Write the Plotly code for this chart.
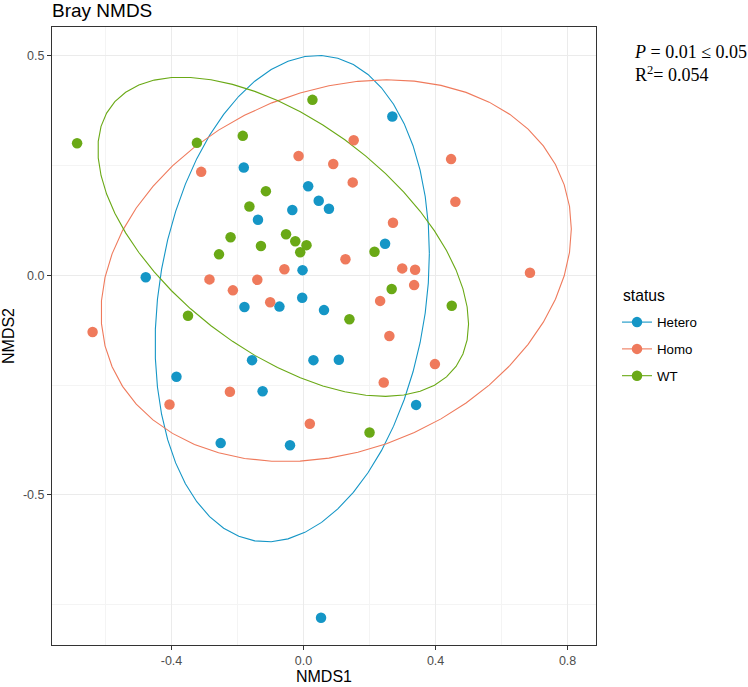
import numpy as np
import plotly.graph_objects as go

# ---- data ----
groups = ["Hetero", "Homo", "WT"]
colors = {"Hetero": "#1596C6", "Homo": "#EF7A5C", "WT": "#6AA916"}

hetero_x = [-0.181, 0.014, 0.046, 0.077, -0.034, -0.138, -0.003, -0.478, -0.004, -0.179, -0.073, 0.062,
            0.269, 0.247, -0.156, 0.030, 0.107, -0.385, -0.124, -0.251, -0.041, 0.341, 0.053]
hetero_y = [0.246, 0.203, 0.170, 0.152, 0.149, 0.127, 0.012, -0.004, -0.051, -0.072, -0.071, -0.079,
            0.362, 0.072, -0.193, -0.193, -0.192, -0.231, -0.264, -0.382, -0.387, -0.295, -0.780]

homo_x = [0.152, -0.015, 0.090, -0.310, 0.149, 0.127, -0.058, -0.285, -0.140, -0.214, -0.101, -0.639,
          0.447, 0.460, 0.271, 0.299, 0.338, 0.686, 0.335, 0.232, 0.260, -0.223, -0.406, 0.019, 0.398, 0.243]
homo_y = [0.308, 0.272, 0.254, 0.236, 0.212, 0.037, 0.014, -0.009, -0.010, -0.034, -0.061, -0.129,
          0.265, 0.168, 0.120, 0.016, 0.013, 0.006, -0.022, -0.058, -0.138, -0.265, -0.294, -0.338, -0.202, -0.244]

wt_x = [-0.686, -0.323, -0.184, 0.027, -0.114, -0.164, -0.221, -0.053, -0.025, 0.009, -0.010, -0.129,
        -0.256, 0.215, -0.350, 0.139, 0.267, 0.449, 0.200]
wt_y = [0.301, 0.302, 0.318, 0.400, 0.192, 0.157, 0.087, 0.094, 0.078, 0.069, 0.053, 0.067,
        0.048, 0.054, -0.092, -0.100, -0.031, -0.069, -0.358]

series = {"Hetero": (hetero_x, hetero_y), "Homo": (homo_x, homo_y), "WT": (wt_x, wt_y)}

x_ticks = [-0.4, 0.0, 0.4, 0.8]
x_ticktext = ["-0.4", "0.0", "0.4", "0.8"]
y_ticks = [-0.5, 0.0, 0.5]
y_ticktext = ["-0.5", "0.0", "0.5"]
annot_lines = ["<i>P</i> = 0.01 ≤ 0.05", "R<sup>2</sup>= 0.054"]

SANS = "Liberation Sans, Arial"


# ---- ggplot2 stat_ellipse (type "t", level 0.95) ----
def cov_trob(X, nu=5, maxit=25, tol=0.01):
    n, p = X.shape
    wt = np.ones(n)
    loc = X.mean(axis=0)
    w = np.sqrt(wt)
    Xc = X - loc
    for _ in range(maxit):
        w0 = w
        Xc = X - loc
        A = np.sqrt(w / w.sum())[:, None] * Xc
        _, d, Vt = np.linalg.svd(A, full_matrices=False)
        wX = Xc @ Vt.T @ np.diag(1.0 / d)
        Q = (wX ** 2).sum(axis=1)
        w = (wt * (nu + p)) / (nu + Q)
        loc = (w[:, None] * X).sum(axis=0) / w.sum()
        if np.all(np.abs(w - w0) < tol):
            break
    cov = (np.sqrt(w)[:, None] * Xc).T @ (np.sqrt(w)[:, None] * Xc) / wt.sum()
    return cov, loc


def stat_ellipse(xs, ys, level=0.95, segments=51):
    X = np.column_stack([xs, ys]).astype(float)
    cov, center = cov_trob(X)
    dfn, dfd = 2, X.shape[0] - 1
    qf = dfd / 2.0 * ((1 - level) ** (-2.0 / dfd) - 1)
    radius = np.sqrt(dfn * qf)
    ang = np.arange(segments + 1) * 2 * np.pi / segments
    circ = np.column_stack([np.cos(ang), np.sin(ang)])
    R = np.linalg.cholesky(cov).T
    E = center + radius * (circ @ R)
    return E[:, 0], E[:, 1]


fig = go.Figure()

for g in groups:
    xs, ys = series[g]
    ex, ey = stat_ellipse(xs, ys)
    fig.add_trace(go.Scatter(x=ex, y=ey, mode="lines", line=dict(color=colors[g], width=1.1),
                             showlegend=False, hoverinfo="skip"))

for g in groups:
    xs, ys = series[g]
    fig.add_trace(go.Scatter(x=xs, y=ys, mode="markers", name=g, showlegend=False,
                             marker=dict(color=colors[g], size=10.5, line=dict(width=0))))

for g in groups:
    fig.add_trace(go.Scatter(x=[None], y=[None], mode="lines+markers", name=g, legendgroup=g,
                             marker=dict(color=colors[g], size=10.5),
                             line=dict(color=colors[g], width=1.1)))

axis_common = dict(
    automargin=False,
    showgrid=True, gridcolor="#EBEBEB", gridwidth=1.1,
    zeroline=False, showline=True, mirror=True, linecolor="#333333", linewidth=1.1,
    ticks="outside", ticklen=4, tickcolor="#333333", tickwidth=1.1,
    tickfont=dict(family=SANS, size=12.5, color="#4D4D4D"),
)

fig.update_layout(
    width=748, height=687,
    margin=dict(l=52, r=152, t=27, b=42),
    paper_bgcolor="white", plot_bgcolor="white",
    title=dict(text="Bray NMDS", x=52 / 748, xanchor="left", y=1 - 10.5 / 687, yanchor="middle",
               font=dict(family=SANS, size=19, color="black")),
    xaxis=dict(range=[-0.762, 0.886], tickvals=x_ticks, ticktext=x_ticktext,
               title=dict(text="NMDS1", standoff=2, font=dict(family=SANS, size=16, color="black")),
               **axis_common),
    yaxis=dict(range=[-0.842, 0.566], tickvals=y_ticks, ticktext=y_ticktext,
               title=dict(text="NMDS2", standoff=6, font=dict(family=SANS, size=16, color="black")),
               **axis_common),
    legend=dict(x=1.0386, xanchor="left", y=0.547, yanchor="top",
                font=dict(family=SANS, size=13.3, color="black"),
                tracegroupgap=6.5, itemwidth=30, bgcolor="rgba(0,0,0,0)"),
    showlegend=True,
)
fig.update_xaxes(minor=dict(tickvals=[-0.6, -0.2, 0.2, 0.6], showgrid=True, gridcolor="#F4F4F4",
                            gridwidth=0.6, ticks=""))
fig.update_yaxes(minor=dict(tickvals=[-0.75, -0.25, 0.25], showgrid=True, gridcolor="#F4F4F4",
                            gridwidth=0.6, ticks=""))

fig.add_annotation(text="status", xref="paper", yref="paper", x=(621 - 52) / 544, y=(645 - 295) / 618,
                   xanchor="left", yanchor="middle", showarrow=False,
                   font=dict(family=SANS, size=15.7, color="black"))

fig.add_annotation(text="<br>".join(annot_lines), xref="paper", yref="paper",
                   x=(632 - 52) / 544, y=(645 - 40) / 618, xanchor="left", yanchor="top", align="left",
                   showarrow=False,
                   font=dict(family="Liberation Serif, Times New Roman", size=18, color="black"))

fig.write_html("out.html", config={"displayModeBar": False},
               post_script="document.body.style.margin='0';document.body.style.overflow='hidden';")
